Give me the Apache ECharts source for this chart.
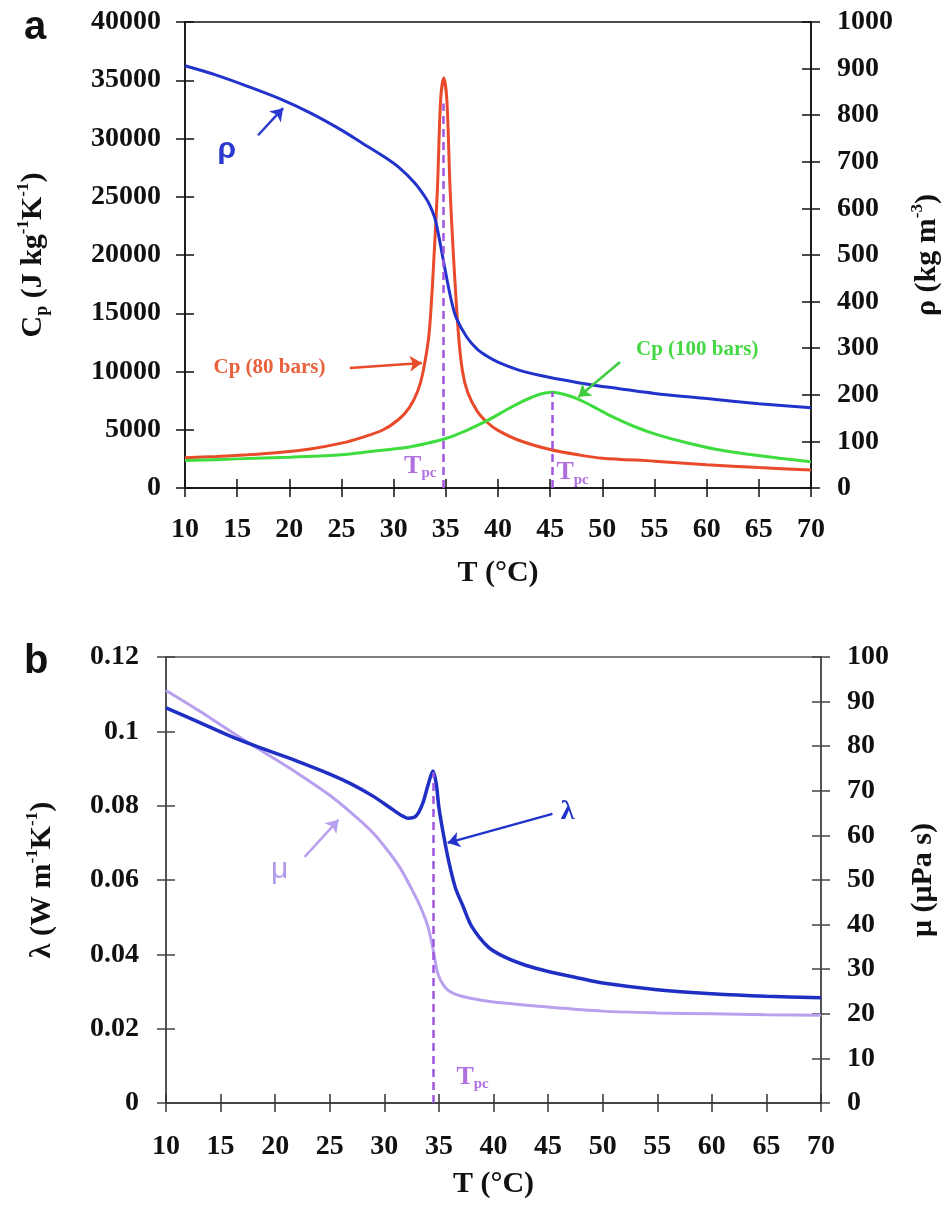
<!DOCTYPE html>
<html>
<head>
<meta charset="utf-8">
<script src="https://cdn.jsdelivr.net/npm/echarts@6/dist/echarts.min.js"></script>
<style>
  html, body { margin: 0; padding: 0; background: #fff; }
  #chart { width: 950px; height: 1211px; }
</style>
</head>
<body>
<div id="chart"></div>
<script>
// axis ranges [min, max, interval]
var tempRange = [10, 70, 5];
var cpRange = [0, 40000, 5000];
var rhoRange = [0, 1000, 100];
var lambdaRange = [0, 0.12, 0.02];
var muRange = [0, 100, 10];

// panel a : [T (°C), value]
var rho80 = [[10,906],[13,886],[16,862],[19,836],[22,805],[25,768],[27,740],[29,712],[30.5,688],[32,655],[33,625],
  [33.5,605],[34,575],[34.5,520],[35,460],[35.5,405],[36,365],[37,324],[38,298],[39,282],[40,270],[42,253],[45,237],
  [48,225],[50,218],[55,203],[60,192],[65,181],[70,172]];
var cp80 = [[10,2600],[13,2700],[16,2850],[19,3050],[22,3350],[25,3850],[27,4350],[29,5000],[30.5,5900],[31.5,6900],
  [32.3,8300],[32.8,9900],[33.4,13300],[33.9,20400],[34.2,25800],[34.5,33300],[34.8,35200],[35.1,33300],[35.4,25800],
  [35.7,20400],[36.2,13300],[36.6,10000],[37.1,8200],[38,6600],[39,5600],[40,4950],[42,4100],[45,3300],[48,2800],
  [50,2560],[55,2300],[60,2000],[65,1750],[70,1550]];
var cp100 = [[10,2350],[15,2500],[20,2650],[25,2850],[28,3150],[31,3450],[33,3800],[35,4250],[37,4950],[39,5800],
  [41,6800],[42.5,7500],[44,8050],[45.2,8220],[46.5,8000],[48,7500],[49.5,6800],[51,6100],[53,5300],[55,4650],
  [58,3900],[61,3300],[64,2900],[67,2550],[70,2250]];

// panel b
var lambda80 = [[10,0.1063],[13,0.1025],[16,0.0986],[19,0.0952],[22,0.0920],[25,0.0885],[27,0.0858],[29,0.0825],
  [30.5,0.0795],[31.5,0.0775],[32.2,0.0766],[32.9,0.0772],[33.5,0.0805],[34,0.0855],[34.45,0.0893],[34.75,0.0860],
  [35,0.0795],[35.4,0.0725],[35.9,0.0650],[36.5,0.0580],[37.2,0.0530],[38,0.0475],[39.5,0.0420],[41,0.0393],
  [43,0.0370],[45,0.0354],[48,0.0335],[50,0.0323],[55,0.0305],[60,0.0294],[65,0.0287],[70,0.0283]];
var mu80 = [[10,92.5],[13,88],[16,83.2],[19,78.6],[22,74],[25,69],[27,65],[29,60.5],[30.5,56],[31.5,52.5],[32.5,48],
  [33.3,44],[34,39.5],[34.5,34],[34.9,29],[35.4,26.5],[36,25],[37,24],[39,23],[41,22.4],[45,21.5],[50,20.6],
  [55,20.2],[60,20],[65,19.8],[70,19.7]];

// pseudo-critical temperatures
var tpcA = [34.8, 45.2];
var tpcB = 34.5;

var SERIF = '"Liberation Serif", "Times New Roman", serif';
var SANS = '"Liberation Sans", Arial, sans-serif';

var nameRich = {
  n: { fontFamily: SERIF, fontWeight: 'bold', fontSize: 30, color: '#111', lineHeight: 36 },
  sub: { fontFamily: SERIF, fontWeight: 'bold', fontSize: 18, color: '#111', lineHeight: 36, verticalAlign: 'bottom' },
  sup: { fontFamily: SERIF, fontWeight: 'bold', fontSize: 17, color: '#111', lineHeight: 36, verticalAlign: 'top' }
};
var tpcRich = {
  t: { fontFamily: SERIF, fontWeight: 'bold', fontSize: 26, color: '#b070e0', lineHeight: 30 },
  s: { fontFamily: SERIF, fontWeight: 'bold', fontSize: 15, color: '#b070e0', lineHeight: 30, verticalAlign: 'bottom' }
};

function plainNum(v) {
  return String(parseFloat(v.toPrecision(10)));
}

// main axis (line + outer ticks + labels)
function mainAxis(range, o) {
  return {
    type: 'value', gridIndex: o.grid, position: o.pos,
    min: range[0], max: range[1], interval: range[2],
    name: o.name || '', nameLocation: 'middle', nameGap: o.gap || 0, nameRotate: o.rotate,
    nameTextStyle: { rich: nameRich, fontFamily: SERIF, fontWeight: 'bold', fontSize: 30, color: '#111' },
    splitLine: { show: false },
    axisLine: { show: true, onZero: false, lineStyle: { color: o.color, width: 1.5 } },
    axisTick: { show: true, inside: false, length: 9, lineStyle: { color: o.color, width: 1.5 } },
    axisLabel: { fontFamily: SERIF, fontWeight: 'bold', fontSize: 28, color: '#111', margin: o.margin,
      formatter: plainNum, showMinLabel: true, showMaxLabel: true, hideOverlap: false }
  };
}
// copy of an axis that only draws the inner half of the crossing ticks
function tickAxis(range, o) {
  return {
    type: 'value', gridIndex: o.grid, position: o.pos,
    min: range[0], max: range[1], interval: range[2],
    splitLine: { show: false },
    axisLine: { show: false, onZero: false },
    axisTick: { show: true, inside: true, length: 9, lineStyle: { color: o.color, width: 1.5 } },
    axisLabel: { show: false }
  };
}

function arrow(from, to, color) {
  return {
    silent: true, symbol: ['none', 'arrow'], symbolSize: 12,
    label: { show: false },
    lineStyle: { color: color, width: 2.5, type: 'solid' },
    data: [[{ coord: from }, { coord: to }]]
  };
}

function textMark(coord, text, style, pos) {
  return {
    coord: coord, symbol: 'circle', symbolSize: 0,
    label: Object.assign({ show: true, position: pos || 'inside', distance: 0, formatter: text }, style)
  };
}

var dashStyle = { color: '#a055e0', width: 2.5, type: [8, 5] };

var option = {
  animation: false,
  backgroundColor: '#fff',
  grid: [
    { left: 185, top: 22, width: 626, height: 466, show: true, borderColor: '#111', borderWidth: 1.5 },
    { left: 166, top: 657, width: 655, height: 446, show: true, borderColor: '#555', borderWidth: 1.5 }
  ],
  xAxis: [
    mainAxis(tempRange, { grid: 0, pos: 'bottom', color: '#111', margin: 28, name: 'T (°C)', gap: 70 }),
    tickAxis(tempRange, { grid: 0, pos: 'bottom', color: '#111' }),
    mainAxis(tempRange, { grid: 1, pos: 'bottom', color: '#333', margin: 30, name: 'T (°C)', gap: 66 }),
    tickAxis(tempRange, { grid: 1, pos: 'bottom', color: '#333' })
  ],
  yAxis: [
    mainAxis(cpRange, { grid: 0, pos: 'left', color: '#111', margin: 24, rotate: 90, gap: 134,
      name: '{n|C}{sub|p}{n| (J kg}{sup|-1}{n|K}{sup|-1}{n|)}' }),
    mainAxis(rhoRange, { grid: 0, pos: 'right', color: '#111', margin: 26, rotate: 90, gap: 98,
      name: '{n|ρ (kg m}{sup|-3}{n|)}' }),
    tickAxis(cpRange, { grid: 0, pos: 'left', color: '#111' }),
    tickAxis(rhoRange, { grid: 0, pos: 'right', color: '#111' }),
    mainAxis(lambdaRange, { grid: 1, pos: 'left', color: '#444', margin: 27, rotate: 90, gap: 106,
      name: '{n|λ (W m}{sup|-1}{n|K}{sup|-1}{n|)}' }),
    mainAxis(muRange, { grid: 1, pos: 'right', color: '#444', margin: 26, rotate: 90, gap: 84,
      name: '{n|μ (μPa s)}' }),
    tickAxis(lambdaRange, { grid: 1, pos: 'left', color: '#444' }),
    tickAxis(muRange, { grid: 1, pos: 'right', color: '#444' })
  ],
  graphic: [
    { type: 'text', left: 24, top: 8, style: { text: 'a', font: 'bold 40px ' + SANS, fill: '#111' } },
    { type: 'text', left: 24, top: 642, style: { text: 'b', font: 'bold 40px ' + SANS, fill: '#111' } }
  ],
  series: [
    {
      name: 'rho', type: 'line', xAxisIndex: 0, yAxisIndex: 1, data: rho80,
      smooth: 0.3, showSymbol: false, z: 3,
      lineStyle: { color: '#2233cc', width: 3 },
      markLine: arrow([17.0, 757], [19.4, 815], '#2a3ad0'),
      markPoint: { silent: true, data: [
        textMark([14.0, 725], 'ρ', { fontFamily: SANS, fontWeight: 'bold', fontSize: 30, color: '#2a3ad0' })
      ] }
    },
    {
      name: 'cp80', type: 'line', xAxisIndex: 0, yAxisIndex: 0, data: cp80,
      smooth: 0.3, showSymbol: false, z: 2,
      lineStyle: { color: '#e84a2a', width: 3 },
      markLine: {
        silent: true, symbol: 'none', label: { show: false },
        data: [
          [{ coord: [tpcA[0], 0], lineStyle: dashStyle }, { coord: [tpcA[0], 33000] }],
          [{ coord: [25.8, 10300], symbol: 'none', lineStyle: { color: '#e84a2a', width: 2.5, type: 'solid' } },
           { coord: [32.7, 10730], symbol: 'arrow', symbolSize: 12 }]
        ]
      },
      markPoint: { silent: true, data: [
        textMark([18.1, 10300], 'Cp (80 bars)', { fontFamily: SERIF, fontWeight: 'bold', fontSize: 21, color: '#e8603c' }),
        textMark([34.1, 1900], '{t|T}{s|pc}', { rich: tpcRich }, 'left')
      ] }
    },
    {
      name: 'cp100', type: 'line', xAxisIndex: 0, yAxisIndex: 0, data: cp100,
      smooth: 0.3, showSymbol: false, z: 2,
      lineStyle: { color: '#3fdc3f', width: 3 },
      markLine: {
        silent: true, symbol: 'none', label: { show: false },
        data: [
          [{ coord: [tpcA[1], 0], lineStyle: dashStyle }, { coord: [tpcA[1], 8220] }],
          [{ coord: [51.7, 10810], symbol: 'none', lineStyle: { color: '#3fcc3f', width: 2.5, type: 'solid' } },
           { coord: [47.7, 7810], symbol: 'arrow', symbolSize: 12 }]
        ]
      },
      markPoint: { silent: true, data: [
        textMark([59.1, 11840], 'Cp (100 bars)', { fontFamily: SERIF, fontWeight: 'bold', fontSize: 21, color: '#44d844' }),
        textMark([45.6, 1350], '{t|T}{s|pc}', { rich: tpcRich }, 'right')
      ] }
    },
    {
      name: 'mu', type: 'line', xAxisIndex: 2, yAxisIndex: 5, data: mu80,
      smooth: 0.3, showSymbol: false, z: 2,
      lineStyle: { color: '#b8a0ee', width: 3 },
      markLine: arrow([22.7, 55.2], [25.8, 63.5], '#b8a0ee'),
      markPoint: { silent: true, data: [
        textMark([20.4, 52.2], 'μ', { fontFamily: SANS, fontSize: 30, color: '#b09ae8' })
      ] }
    },
    {
      name: 'lambda', type: 'line', xAxisIndex: 2, yAxisIndex: 4, data: lambda80,
      smooth: 0.3, showSymbol: false, z: 3,
      lineStyle: { color: '#1f2fc4', width: 3.5 },
      markLine: {
        silent: true, symbol: 'none', label: { show: false },
        data: [
          [{ coord: [tpcB, 0], lineStyle: dashStyle }, { coord: [tpcB, 0.089] }],
          [{ coord: [45.4, 0.0778], symbol: 'none', lineStyle: { color: '#2233cc', width: 2.5, type: 'solid' } },
           { coord: [35.8, 0.0700], symbol: 'arrow', symbolSize: 12 }]
        ]
      },
      markPoint: { silent: true, data: [
        textMark([46.8, 0.0783], 'λ', { fontFamily: SERIF, fontWeight: 'bold', fontSize: 28, color: '#2233cc' }),
        textMark([36.6, 0.007], '{t|T}{s|pc}', { rich: tpcRich }, 'right')
      ] }
    }
  ]
};

var chart = echarts.init(document.getElementById('chart'));
chart.setOption(option);
window.addEventListener('resize', function () {
  chart.resize();
});
</script>
</body>
</html>
